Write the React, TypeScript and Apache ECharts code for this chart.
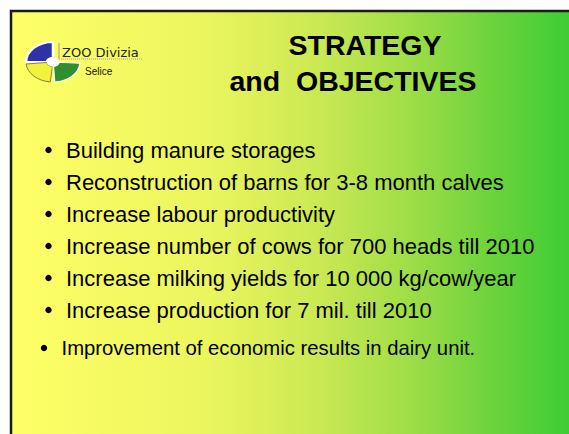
import React, { useEffect, useRef } from "react";
import * as echarts from "echarts";

const titleLines = ["STRATEGY", "and  OBJECTIVES"];
const bullets = [
  "Building manure storages",
  "Reconstruction of barns for 3-8 month calves",
  "Increase labour productivity",
  "Increase number of cows for 700 heads till 2010",
  "Increase milking yields for 10 000 kg/cow/year",
  "Increase production for 7 mil. till 2010",
  "Improvement of economic results in dairy unit.",
];
const bulletY = [150, 182, 214, 246, 278, 310, 348];
const logoName = "ZOO Divizia";
const logoSub = "Selice";

export default function App() {
  const ref = useRef<HTMLDivElement>(null);
  useEffect(() => {
    if (!ref.current) return;
    const chart = echarts.init(ref.current, null, { renderer: "svg" });
    const font = "'Liberation Sans', Arial, sans-serif";
    const elements: any[] = [];
    // slide background
    elements.push({
      type: "rect",
      shape: { x: 11, y: 11, width: 600, height: 460 },
      style: {
        fill: new echarts.graphic.LinearGradient(0, 0, 1, 0, [
          { offset: 0, color: "#ffff66" },
          { offset: 0.33, color: "#ebf55e" },
          { offset: 0.52, color: "#c9e852" },
          { offset: 0.66, color: "#a0de47" },
          { offset: 0.8, color: "#6dd33c" },
          { offset: 0.95, color: "#36cc33" },
          { offset: 1, color: "#33cc33" },
        ]),
        stroke: "#1a1a1a",
        lineWidth: 2.5,
      },
    });
    // logo
    const cx = 53, cy = 62;
    const q = (s: number, e: number, fill: string, stroke: string, lw: number) => ({
      type: "sector",
      shape: { cx: 0, cy: 0, r: 27, r0: 6, startAngle: s, endAngle: e },
      style: { fill, stroke, lineWidth: lw },
    });
    elements.push({
      type: "group",
      x: cx,
      y: cy,
      scaleY: 0.74,
      children: [
        q(Math.PI, Math.PI * 1.5, "#2f32a6", "#ffffff", 2.5),
        q(Math.PI / 2 + 0.1, Math.PI - 0.1, "#f2f23a", "#6f6f45", 1),
        q(0.06, Math.PI / 2 - 0.06, "#2f8f2f", "#ffffff", 1.5),
        { type: "circle", shape: { cx: 0, cy: 0, r: 6 }, style: { fill: "#ffffff" } },
      ],
    });
    elements.push({
      type: "line",
      shape: { x1: 59, y1: 43, x2: 59, y2: 59 },
      style: { stroke: "#9a9a9a", lineWidth: 1 },
    });
    elements.push({
      type: "line",
      shape: { x1: 59, y1: 59, x2: 143, y2: 59 },
      style: { stroke: "#a0a0a0", lineWidth: 1, lineDash: [1, 1] },
    });
    elements.push({
      type: "text",
      x: 62,
      y: 52,
      style: {
        text: logoName,
        fontSize: 13,
        fontFamily: "'DejaVu Sans', Verdana, sans-serif",
        fill: "#222222",
        verticalAlign: "middle",
      },
    });
    elements.push({
      type: "text",
      x: 85,
      y: 71,
      style: {
        text: logoSub,
        fontSize: 10,
        fontFamily: font,
        fill: "#111111",
        verticalAlign: "middle",
      },
    });
    // title
    const titleY = [45, 81];
    const titleX = [365, 353];
    titleLines.forEach((t, i) => {
      elements.push({
        type: "text",
        x: titleX[i],
        y: titleY[i],
        style: {
          text: t,
          fontSize: 28.5,
          fontWeight: "bold",
          fontFamily: font,
          fill: "#000000",
          align: "center",
          verticalAlign: "middle",
        },
      });
    });
    // bullets
    bullets.forEach((b, i) => {
      const last = i === bullets.length - 1;
      elements.push({
        type: "circle",
        shape: { cx: last ? 44 : 48.5, cy: bulletY[i], r: 3.2 },
        style: { fill: "#000000" },
      });
      elements.push({
        type: "text",
        x: last ? 61.5 : 66,
        y: bulletY[i],
        style: {
          text: b,
          fontSize: last ? 20.3 : 22,
          fontFamily: font,
          fill: "#000000",
          verticalAlign: "middle",
        },
      });
    });
    chart.setOption({
      animation: false,
      graphic: { elements },
    });
    return () => chart.dispose();
  }, []);
  return (
    <div
      ref={ref}
      style={{ position: "fixed", left: 0, top: 0, width: 569, height: 434, background: "#ffffff" }}
    />
  );
}
